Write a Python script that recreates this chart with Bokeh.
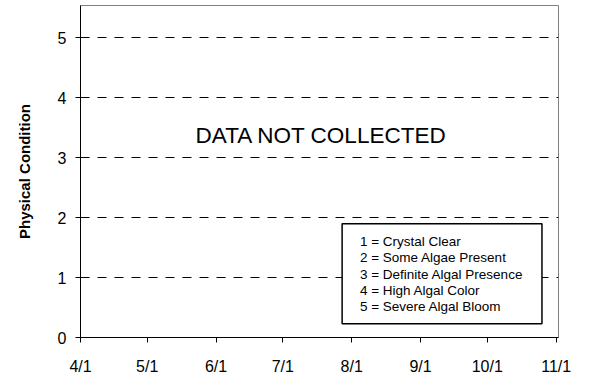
from datetime import datetime, timedelta

from bokeh.plotting import figure
from bokeh.models import (Range1d, FixedTicker, DatetimeTickFormatter, Label,
                          BoxAnnotation)
from bokeh.embed import file_html
from bokeh.resources import INLINE

# ---- data -------------------------------------------------------------
month_starts = [datetime(2008, m, 1) for m in range(4, 12)]
month_labels = ["4/1", "5/1", "6/1", "7/1", "8/1", "9/1", "10/1", "11/1"]
y_ticks = [0, 1, 2, 3, 4, 5]
y_label = "Physical Condition"
note_text = "DATA NOT COLLECTED"
scale_lines = [
    "1 = Crystal Clear",
    "2 = Some Algae Present",
    "3 = Definite Algal Presence",
    "4 = High Algal Color",
    "5 = Severe Algal Bloom",
]

EPOCH = datetime(1970, 1, 1)


def ms(d):
    return (d - EPOCH).total_seconds() * 1000.0


def day(n):
    return ms(month_starts[0] + timedelta(days=n))


FONT = "Liberation Sans"

p = figure(width=589, height=377, x_axis_type="datetime",
           output_backend="svg", toolbar_location=None,
           min_border_left=80, min_border_right=31,
           min_border_top=5, min_border_bottom=36)
p.x_range = Range1d(ms(month_starts[0]), ms(month_starts[-1] + timedelta(hours=25)))
p.y_range = Range1d(0, 5.54)

p.background_fill_color = "white"
p.border_fill_color = "white"
p.outline_line_color = "#808080"
p.outline_line_width = 1

# axes
p.xaxis.ticker = FixedTicker(ticks=[ms(d) for d in month_starts])
fmt = "%-m/%-d"
p.xaxis.formatter = DatetimeTickFormatter(
    microseconds=fmt, milliseconds=fmt, seconds=fmt, minsec=fmt, minutes=fmt,
    hourmin=fmt, hours=fmt, days=fmt, months=fmt, years=fmt)
p.xaxis.major_label_overrides = {ms(d): lab for d, lab in zip(month_starts, month_labels)}
p.yaxis.ticker = FixedTicker(ticks=y_ticks)

for ax in (p.xaxis[0], p.yaxis[0]):
    ax.axis_line_color = "black"
    ax.axis_line_width = 1
    ax.major_tick_line_color = "black"
    ax.major_tick_in = 0
    ax.major_tick_out = 5
    ax.minor_tick_line_color = None
    ax.major_label_text_font = FONT
    ax.major_label_text_color = "black"
    ax.major_label_text_font_size = "16px"

p.xaxis.major_label_standoff = 15
p.yaxis.major_label_standoff = 9

p.yaxis.axis_label = y_label
p.yaxis.axis_label_text_font = FONT
p.yaxis.axis_label_text_font_style = "bold"
p.yaxis.axis_label_text_font_size = "15px"
p.yaxis.axis_label_text_color = "black"
p.yaxis.axis_label_standoff = 22

# grid
p.xgrid.grid_line_color = None
p.ygrid.ticker = FixedTicker(ticks=y_ticks[1:])
p.ygrid.grid_line_color = "black"
p.ygrid.grid_line_width = 1
p.ygrid.grid_line_dash = "9 8"

# "DATA NOT COLLECTED" note
p.add_layout(Label(x=day(108.4), y=3.37, text=note_text,
                   text_font=FONT, text_font_size="22.5px", text_color="black",
                   text_align="center", text_baseline="middle"))

# scale legend box
p.add_layout(BoxAnnotation(left=day(117.7), right=day(207.6), top=1.90, bottom=0.231,
                           fill_color="white", fill_alpha=1.0,
                           line_color="black", line_width=1.5, line_alpha=1.0))

line_step = 0.2715
for i, line in enumerate(scale_lines):
    p.add_layout(Label(x=day(125.7), y=1.602 - i * line_step, text=line,
                       text_font=FONT, text_font_size="13.5px", text_color="black",
                       text_align="left", text_baseline="middle"))

open("out.html", "w").write(file_html(p, INLINE))
